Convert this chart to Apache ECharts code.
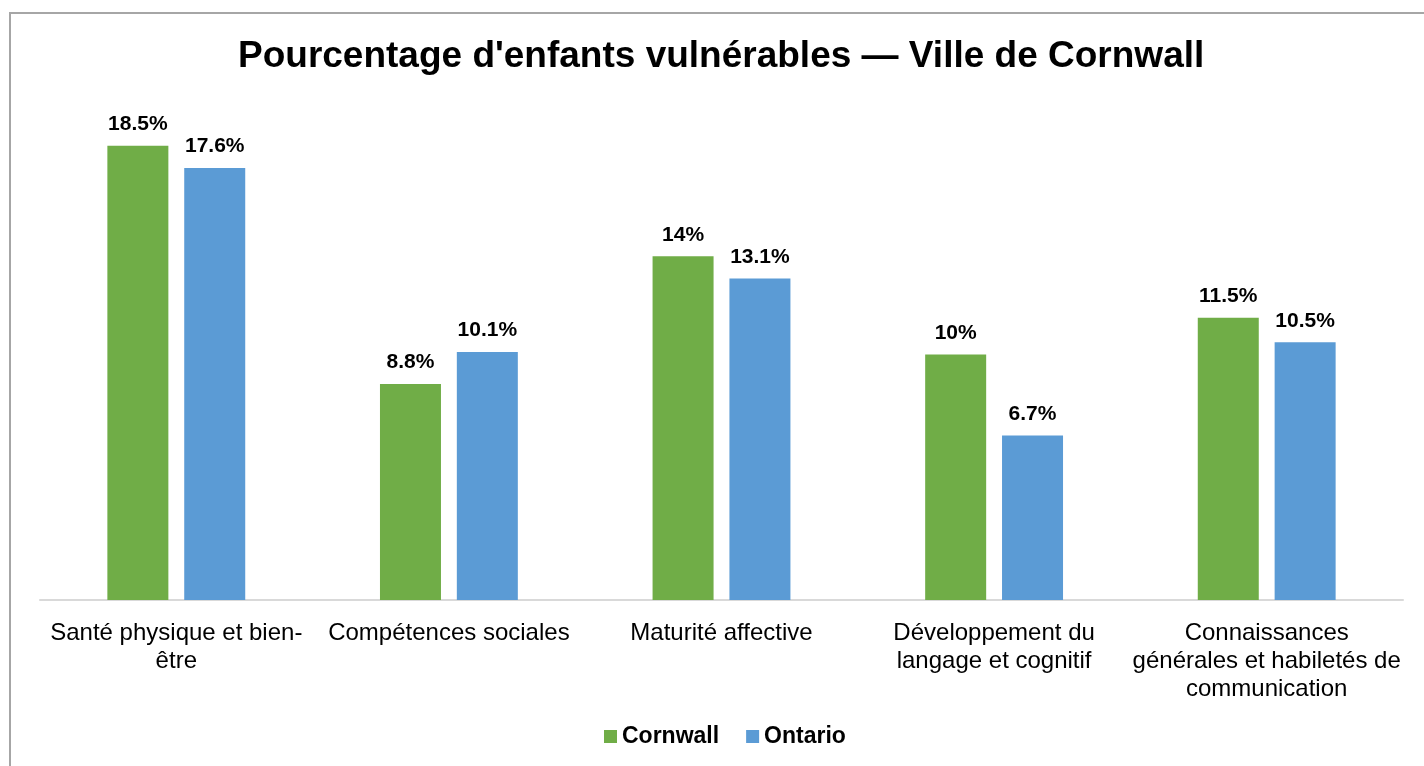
<!DOCTYPE html>
<html>
<head>
<meta charset="utf-8">
<script src="https://cdn.jsdelivr.net/npm/echarts@6/dist/echarts.min.js"></script>
<style>
  html, body { margin: 0; padding: 0; background: #fff; }
  #frame { position: absolute; left: 9px; top: 12px; width: 1430px; height: 770px;
           border-left: 2px solid #a6a6a6; border-top: 2px solid #a6a6a6; }
  #main { position: absolute; left: 0; top: 0; width: 1424px; height: 766px; }
</style>
</head>
<body>
<div id="frame"></div>
<div id="main"></div>
<script>
var categories = [
  'Santé physique et bien-\nêtre',
  'Compétences sociales',
  'Maturité affective',
  'Développement du\nlangage et cognitif',
  'Connaissances\ngénérales et habiletés de\ncommunication'
];
var cornwall = [18.5, 8.8, 14, 10, 11.5];
var ontario = [17.6, 10.1, 13.1, 6.7, 10.5];

var chartDom = document.getElementById('main');
var myChart = echarts.init(chartDom);
var font = '"Liberation Sans", Arial, sans-serif';

var labelStyle = {
  show: true,
  position: 'top',
  distance: 11,
  fontFamily: font,
  fontSize: 21,
  fontWeight: 'bold',
  color: '#000',
  formatter: function (p) { return p.value + '%'; }
};

var option = {
  animation: false,
  title: {
    text: "Pourcentage d'enfants vulnérables — Ville de Cornwall",
    left: 233,
    top: 33,
    textStyle: { fontFamily: font, fontSize: 37, fontWeight: 'bold', color: '#000' }
  },
  legend: {
    data: ['Cornwall', 'Ontario'],
    left: 599,
    top: 720,
    itemWidth: 13,
    itemHeight: 13,
    itemGap: 27,
    icon: 'rect',
    textStyle: { fontFamily: font, fontSize: 23, fontWeight: 'bold', color: '#000' }
  },
  grid: { left: 40, right: 21, top: 109, bottom: 166 },
  xAxis: {
    type: 'category',
    data: categories,
    axisLine: { lineStyle: { color: '#d9d9d9', width: 2 } },
    axisTick: { show: false },
    axisLabel: {
      interval: 0,
      margin: 19,
      fontFamily: font,
      fontSize: 24,
      lineHeight: 28,
      color: '#000',
      align: 'center'
    }
  },
  yAxis: {
    type: 'value',
    min: 0,
    max: 20,
    show: false,
    splitLine: { show: false }
  },
  series: [
    {
      name: 'Cornwall',
      type: 'bar',
      data: cornwall,
      barWidth: 61,
      barGap: '26%',
      itemStyle: { color: '#70ad47' },
      label: labelStyle
    },
    {
      name: 'Ontario',
      type: 'bar',
      data: ontario,
      barWidth: 61,
      itemStyle: { color: '#5b9bd5' },
      label: labelStyle
    }
  ]
};

option && myChart.setOption(option);
</script>
</body>
</html>
